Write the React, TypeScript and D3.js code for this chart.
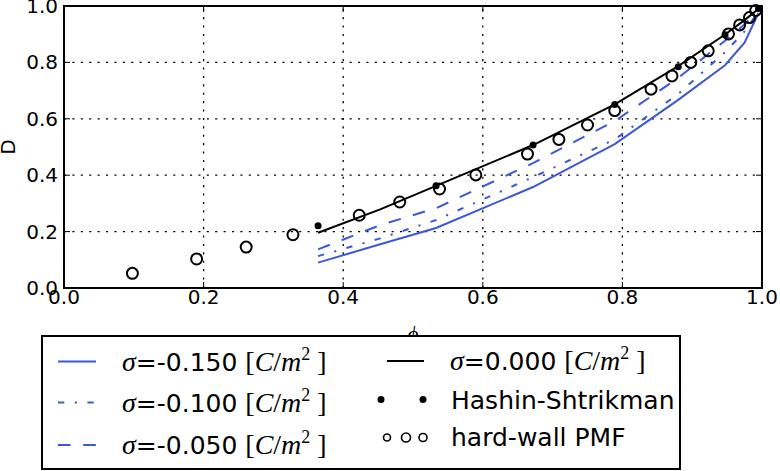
import React from "react";
import * as d3 from "d3";

// simulation curves, sampled at the same volume fractions
const phiSim = [0.364, 0.453, 0.533, 0.672, 0.789, 0.88, 0.947, 0.975, 0.995];
const dSigma000 = [0.196, 0.279, 0.362, 0.507, 0.651, 0.787, 0.899, 0.95, 0.99];
const dSigma050 = [0.137, 0.223, 0.283, 0.443, 0.592, 0.745, 0.877, 0.935, 0.985];
const dSigma100 = [0.113, 0.176, 0.241, 0.393, 0.527, 0.688, 0.836, 0.91, 0.98];
const dSigma150 = [0.09, 0.155, 0.213, 0.358, 0.51, 0.667, 0.79, 0.87, 0.975];

// Hashin-Shtrikman bound
const phiHS = [0.364, 0.533, 0.672, 0.789, 0.88, 0.947, 0.995];
const dHS = [0.221, 0.363, 0.507, 0.651, 0.785, 0.898, 0.991];

// hard-wall PMF
const phiPMF = [0.098, 0.19, 0.261, 0.328, 0.423, 0.481, 0.538, 0.59, 0.664, 0.709, 0.75, 0.789, 0.841, 0.871, 0.898, 0.923, 0.952, 0.968, 0.982, 0.991];
const dPMF = [0.052, 0.103, 0.145, 0.189, 0.258, 0.305, 0.351, 0.401, 0.475, 0.527, 0.578, 0.629, 0.705, 0.752, 0.8, 0.841, 0.901, 0.933, 0.959, 0.984];

const ticks = [0, 0.2, 0.4, 0.6, 0.8, 1.0];

const BLUE = "#3b58d6";
const sans = "'DejaVu Sans', sans-serif";
const serif = "'Liberation Serif', serif";

const W = 780;
const H = 471;

const lineSeries = [
  { label: "-0.150", values: dSigma150, color: BLUE, dash: null },
  { label: "-0.100", values: dSigma100, color: BLUE, dash: "6.3,10.5,2.1,10.5" },
  { label: "-0.050", values: dSigma050, color: BLUE, dash: "12.6,12.6" },
  { label: "0.000", values: dSigma000, color: "#000", dash: null },
];

const SigmaLabel = ({ x, y, value }: { x: number; y: number; value: string }) => (
  <text x={x} y={y} fontSize={25} fill="#000">
    <tspan fontFamily={serif} fontStyle="italic" fontSize={28}>σ</tspan>
    <tspan fontFamily={sans}>={value} </tspan>
    <tspan fontFamily={serif} fontSize={28}>[</tspan>
    <tspan fontFamily={serif} fontStyle="italic" fontSize={28}>C</tspan>
    <tspan fontFamily={serif} fontSize={28}>/</tspan>
    <tspan fontFamily={serif} fontStyle="italic" fontSize={28}>m</tspan>
    <tspan fontFamily={serif} fontSize={18} dy={-11}>2</tspan>
    <tspan fontFamily={serif} fontSize={28} dy={11}> ]</tspan>
  </text>
);

export default function App() {
  const x = d3.scaleLinear().domain([0, 1]).range([64, 762]);
  const y = d3.scaleLinear().domain([0, 1]).range([288, 6]);
  const line = d3
    .line<number>()
    .x((_, i) => x(phiSim[i]))
    .y((d) => y(d));

  const leftRows = [361.5, 402.5, 445];
  const rightRows = [361, 399.5, 437.5];

  return (
    <svg
      width={W}
      height={H}
      style={{ position: "absolute", left: 0, top: 0, background: "#fff" }}
    >
      <rect width={W} height={H} fill="#fff" />

      {/* grid */}
      {ticks.map((t) => (
        <g key={"g" + t} stroke="#000" strokeWidth={1.3} strokeDasharray="2.1,6.3">
          <line x1={x(t)} x2={x(t)} y1={y(0)} y2={y(1)} />
          <line x1={x(0)} x2={x(1)} y1={y(t)} y2={y(t)} />
        </g>
      ))}

      {/* ticks, pointing inward on all sides */}
      {ticks.map((t) => (
        <g key={"t" + t} stroke="#000" strokeWidth={1}>
          <line x1={x(t)} x2={x(t)} y1={y(0)} y2={y(0) - 6} />
          <line x1={x(t)} x2={x(t)} y1={y(1)} y2={y(1) + 6} />
          <line x1={x(0)} x2={x(0) + 6} y1={y(t)} y2={y(t)} />
          <line x1={x(1)} x2={x(1) - 6} y1={y(t)} y2={y(t)} />
        </g>
      ))}

      {/* curves */}
      {lineSeries.map((s) => (
        <path
          key={s.label}
          d={line(s.values) || ""}
          fill="none"
          stroke={s.color}
          strokeWidth={2}
          strokeDasharray={s.dash || undefined}
        />
      ))}

      {/* hard-wall PMF */}
      {phiPMF.map((p, i) => (
        <circle key={"p" + i} cx={x(p)} cy={y(dPMF[i])} r={5.5} fill="none" stroke="#000" strokeWidth={2} />
      ))}

      {/* Hashin-Shtrikman */}
      {phiHS.map((p, i) => (
        <circle key={"h" + i} cx={x(p)} cy={y(dHS[i])} r={3.5} fill="#000" />
      ))}

      {/* frame */}
      <rect x={x(0)} y={y(1)} width={x(1) - x(0)} height={y(0) - y(1)} fill="none" stroke="#000" strokeWidth={2} />

      {/* tick labels */}
      {ticks.map((t) => (
        <text key={"xl" + t} x={x(t)} y={304} textAnchor="middle" fontFamily={sans} fontSize={20}>
          {t.toFixed(1)}
        </text>
      ))}
      {ticks.map((t) => (
        <text key={"yl" + t} x={58} y={y(t) + 7} textAnchor="end" fontFamily={sans} fontSize={20}>
          {t.toFixed(1)}
        </text>
      ))}

      {/* axis labels */}
      <text transform="translate(15,147) rotate(-90)" textAnchor="middle" fontFamily={sans} fontSize={20}>
        D
      </text>
      <text x={413} y={341} textAnchor="middle" fontFamily={serif} fontStyle="italic" fontSize={21}>
        ϕ
      </text>

      {/* legend */}
      <rect x={42} y={336} width={638} height={133} fill="#fff" stroke="#000" strokeWidth={2} />
      {lineSeries.slice(0, 3).map((s, i) => (
        <g key={"lg" + i}>
          <line x1={58} x2={96} y1={leftRows[i]} y2={leftRows[i]} stroke={s.color} strokeWidth={2} strokeDasharray={s.dash || undefined} />
          <SigmaLabel x={122} y={leftRows[i] + 9} value={s.label} />
        </g>
      ))}
      <line x1={387} x2={424} y1={rightRows[0]} y2={rightRows[0]} stroke="#000" strokeWidth={2} />
      <SigmaLabel x={450} y={rightRows[0] + 9} value={lineSeries[3].label} />

      <circle cx={381} cy={rightRows[1]} r={3.5} fill="#000" />
      <circle cx={423} cy={rightRows[1]} r={3.5} fill="#000" />
      <text x={451} y={rightRows[1] + 9} fontFamily={sans} fontSize={25}>
        Hashin-Shtrikman
      </text>

      {[
        [387, 3.5],
        [406, 4.5],
        [423, 4],
      ].map(([cx, r], i) => (
        <circle key={"lc" + i} cx={cx} cy={rightRows[2]} r={r} fill="none" stroke="#000" strokeWidth={1.6} />
      ))}
      <text x={451} y={rightRows[2] + 8} fontFamily={sans} fontSize={25}>
        hard-wall PMF
      </text>
    </svg>
  );
}
